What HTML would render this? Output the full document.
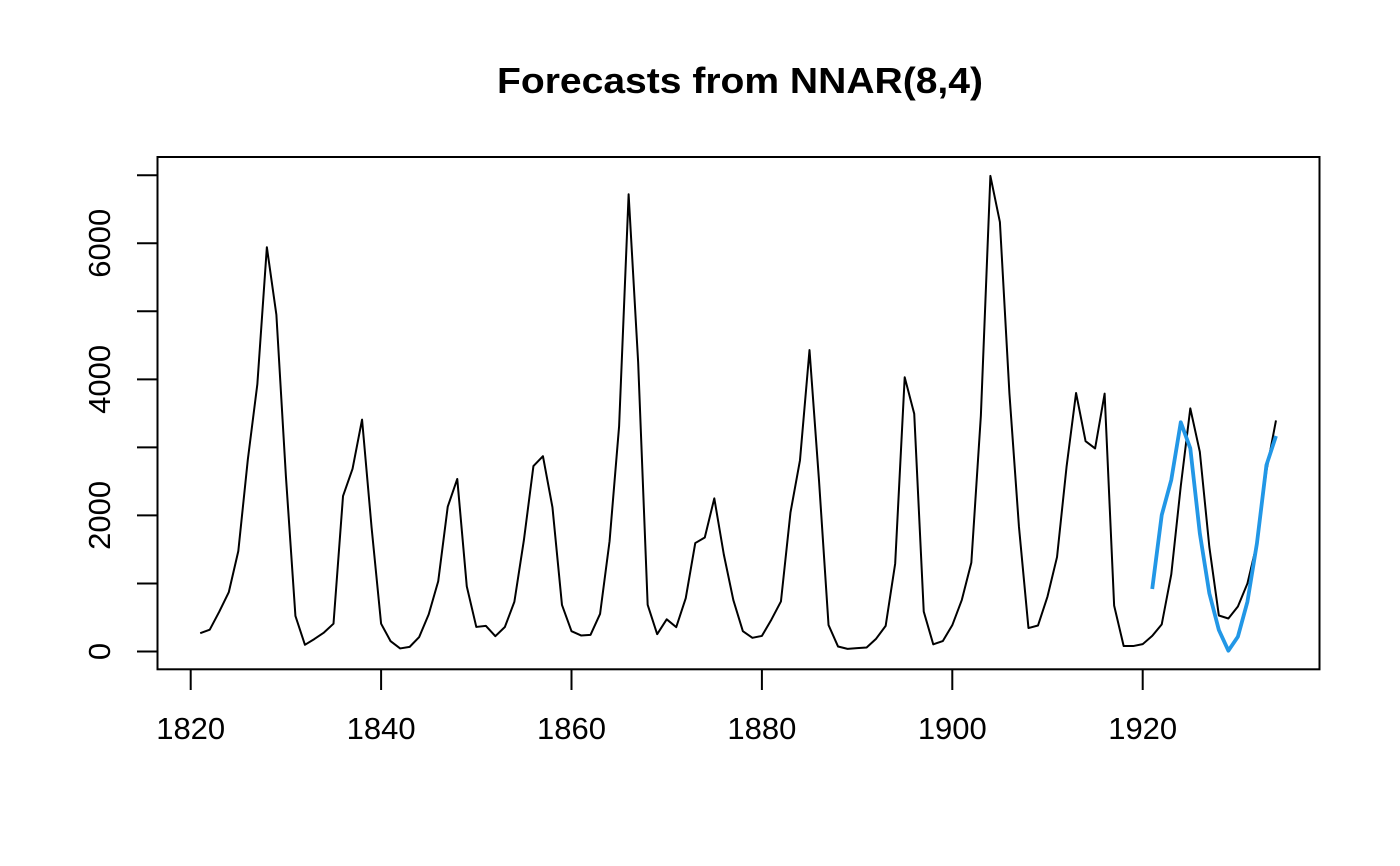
<!DOCTYPE html>
<html>
<head>
<meta charset="utf-8">
<style>
  html, body { margin: 0; padding: 0; background: #ffffff; }
  body { width: 1400px; height: 866px; overflow: hidden; }
  svg { display: block; }
  text { font-family: "Liberation Sans", "DejaVu Sans", sans-serif; fill: #000; }
</style>
</head>
<body>
<svg width="1400" height="866" viewBox="0 0 1400 866" xmlns="http://www.w3.org/2000/svg">
  <rect x="0" y="0" width="1400" height="866" fill="#ffffff"/>

  <!-- Title -->
  <text x="740" y="93" text-anchor="middle" font-size="36" font-weight="bold" textLength="486" lengthAdjust="spacingAndGlyphs">Forecasts from NNAR(8,4)</text>

  <!-- Plot box -->
  <rect x="157.5" y="157" width="1162" height="512.3" fill="none" stroke="#000" stroke-width="2"/>

  <!-- X axis ticks -->
  <g stroke="#000" stroke-width="2">
    <line x1="190.7" y1="669" x2="190.7" y2="690"/>
    <line x1="381.1" y1="669" x2="381.1" y2="690"/>
    <line x1="571.5" y1="669" x2="571.5" y2="690"/>
    <line x1="761.9" y1="669" x2="761.9" y2="690"/>
    <line x1="952.3" y1="669" x2="952.3" y2="690"/>
    <line x1="1142.7" y1="669" x2="1142.7" y2="690"/>
  </g>
  <g font-size="31" text-anchor="middle">
    <text x="190.7" y="739">1820</text>
    <text x="381.1" y="739">1840</text>
    <text x="571.5" y="739">1860</text>
    <text x="761.9" y="739">1880</text>
    <text x="952.3" y="739">1900</text>
    <text x="1142.7" y="739">1920</text>
  </g>

  <!-- Y axis ticks -->
  <g stroke="#000" stroke-width="2">
    <line x1="137" y1="651.5" x2="158" y2="651.5"/>
    <line x1="137" y1="583.5" x2="158" y2="583.5"/>
    <line x1="137" y1="515.4" x2="158" y2="515.4"/>
    <line x1="137" y1="447.4" x2="158" y2="447.4"/>
    <line x1="137" y1="379.4" x2="158" y2="379.4"/>
    <line x1="137" y1="311.3" x2="158" y2="311.3"/>
    <line x1="137" y1="243.3" x2="158" y2="243.3"/>
    <line x1="137" y1="175.3" x2="158" y2="175.3"/>
  </g>
  <g font-size="31" text-anchor="middle">
    <text transform="translate(110,651.5) rotate(-90)">0</text>
    <text transform="translate(110,515.4) rotate(-90)">2000</text>
    <text transform="translate(110,379.4) rotate(-90)">4000</text>
    <text transform="translate(110,243.3) rotate(-90)">6000</text>
  </g>

  <!-- Data series -->
  <g transform="translate(190.7,651.5) scale(9.52,-0.06803)">
    <polyline fill="none" stroke="#000" stroke-width="2" vector-effect="non-scaling-stroke" stroke-linejoin="round"
      points="1,269 2,321 3,585 4,871 5,1475 6,2821 7,3928 8,5943 9,4950 10,2577 11,523 12,98 13,184 14,279 15,409 16,2285 17,2685 18,3409 19,1824 20,409 21,151 22,45 23,68 24,213 25,546 26,1033 27,2129 28,2536 29,957 30,361 31,377 32,225 33,360 34,731 35,1638 36,2725 37,2871 38,2119 39,684 40,299 41,236 42,245 43,552 44,1623 45,3311 46,6721 47,4254 48,687 49,255 50,473 51,358 52,784 53,1594 54,1676 55,2251 56,1426 57,756 58,299 59,201 60,229 61,469 62,736 63,2042 64,2811 65,4431 66,2511 67,389 68,73 69,39 70,49 71,59 72,188 73,377 74,1292 75,4031 76,3495 77,587 78,105 79,153 80,387 81,758 82,1307 83,3465 84,6991 85,6313 86,3794 87,1836 88,345 89,382 90,808 91,1388 92,2713 93,3800 94,3091 95,2985 96,3790 97,674 98,81 99,80 100,108 101,229 102,399 103,1132 104,2432 105,3574 106,2935 107,1537 108,529 109,485 110,662 111,1000 112,1590 113,2657 114,3396"/>
    <polyline fill="none" stroke="#2297E6" stroke-width="3.8" vector-effect="non-scaling-stroke" stroke-linejoin="round"
      points="101,919 102,2006 103,2521 104,3369 105,2987 106,1737 107,855 108,316 109,12 110,218 111,732 112,1590 113,2741 114,3168"/>
  </g>
</svg>
</body>
</html>
